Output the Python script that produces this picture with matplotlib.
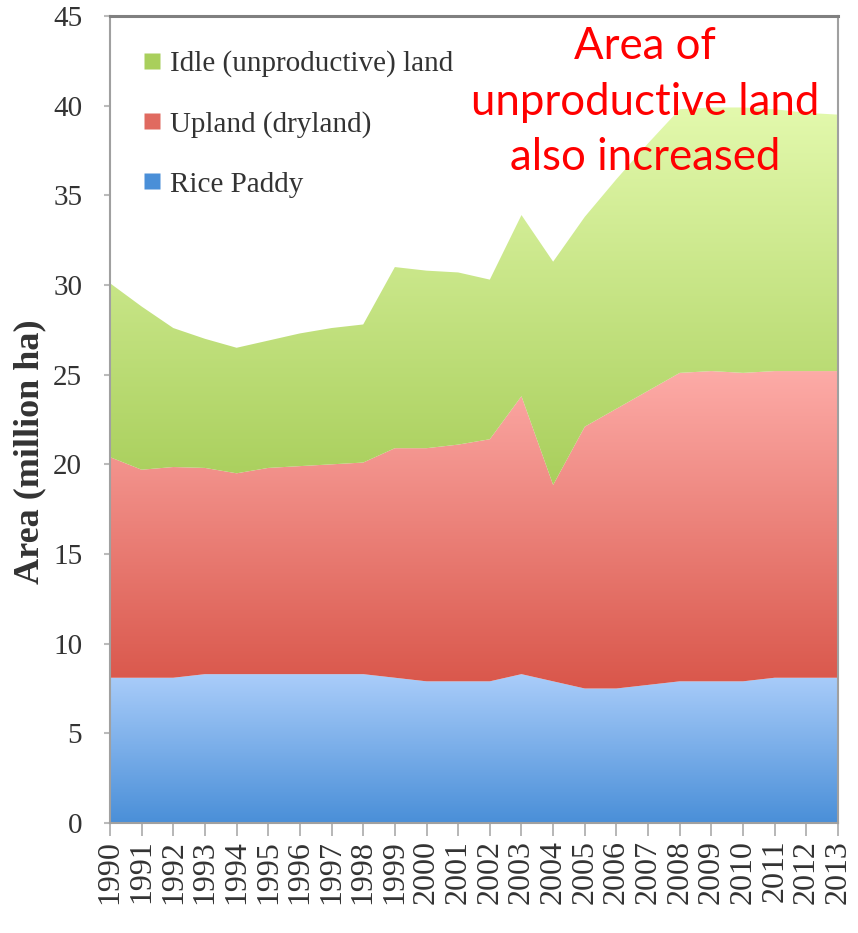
import numpy as np
import matplotlib
matplotlib.use("Agg")
import matplotlib.pyplot as plt
from matplotlib.colors import LinearSegmentedColormap
from matplotlib.lines import Line2D

years = list(range(1990, 2014))
rice = [8.1, 8.1, 8.1, 8.3, 8.3, 8.3, 8.3, 8.3, 8.3, 8.1, 7.9, 7.9,
        7.9, 8.3, 7.9, 7.5, 7.5, 7.7, 7.9, 7.9, 7.9, 8.1, 8.1, 8.1]
upland = [12.3, 11.6, 11.75, 11.5, 11.2, 11.5, 11.6, 11.7, 11.8, 12.8, 13.0, 13.2,
          13.5, 15.5, 10.95, 14.6, 15.6, 16.4, 17.2, 17.3, 17.2, 17.1, 17.1, 17.1]
idle = [9.7, 9.1, 7.75, 7.2, 7.0, 7.1, 7.4, 7.6, 7.7, 10.1, 9.9, 9.6,
        8.9, 10.1, 12.45, 11.7, 12.8, 13.8, 14.7, 14.7, 14.8, 14.6, 14.4, 14.3]
labels = ["Rice Paddy", "Upland (dryland)", "Idle (unproductive) land"]

# gradient colours (bottom -> top) like the Excel fills
grads = [("#4a8fd8", "#aacdfa"), ("#d9564a", "#fdaba7"), ("#a9cf5c", "#e3f9ad")]
swatch = ["#4a8fd8", "#e06a60", "#a9cf5c"]

serif = "Liberation Serif"

fig = plt.figure(figsize=(8.58, 9.33), dpi=100)
ax = fig.add_axes([110 / 858, 1 - 823 / 933, 728 / 858, 807 / 933])

x = np.array(years, dtype=float)
base = np.zeros(len(years))
for vals, (c0, c1) in zip([rice, upland, idle], grads):
    top = base + np.array(vals)
    poly = ax.fill_between(x, base, top, color="none", lw=0)
    lo, hi = base.min(), top.max()
    cmap = LinearSegmentedColormap.from_list("g", [c0, c1])
    grad = np.linspace(0, 1, 256).reshape(-1, 1)
    im = ax.imshow(grad, cmap=cmap, aspect="auto", origin="lower",
                   extent=[x[0], x[-1], lo, hi], interpolation="bicubic", zorder=1)
    im.set_clip_path(poly.get_paths()[0], transform=ax.transData)
    base = top

ax.set_xlim(years[0], years[-1])
ax.set_ylim(0, 45)
ax.set_xticks(years)
ax.set_xticklabels([str(y) for y in years], rotation=90, fontsize=23,
                   family=serif, color="#333333")
ax.set_yticks(range(0, 46, 5))
ax.set_yticklabels([str(v) for v in range(0, 46, 5)], fontsize=21,
                   family=serif, color="#333333")
ax.tick_params(axis="x", length=9, width=1.2, color="#aaaaaa", pad=3)
ax.tick_params(axis="y", length=4, width=1.5, color="#bbbbbb", pad=16)

for s in ["left", "bottom", "right"]:
    ax.spines[s].set_color("#a0a0a0")
    ax.spines[s].set_linewidth(1.5)
ax.spines["top"].set_color("#808080")
ax.spines["top"].set_linewidth(2.2)

ax.set_ylabel("Area (million ha)", fontsize=26, fontweight="bold",
              family=serif, color="#333333")
ax.yaxis.set_label_coords(-0.088, 0.46)

handles = [Line2D([], [], marker="s", ls="none", markersize=11,
                  markerfacecolor=c, markeredgecolor="none") for c in swatch]
leg = ax.legend(handles[::-1], labels[::-1], loc="upper left",
                bbox_to_anchor=(0.01, 0.99), frameon=False,
                prop={"family": serif, "size": 21}, handlelength=0.6,
                handletextpad=0.3, labelspacing=1.15)
for t in leg.get_texts():
    t.set_color("#333333")

ax.text(0.735, 0.988, "Area of\nunproductive land\nalso increased",
        transform=ax.transAxes, ha="center", va="top", color="#ff0000",
        fontsize=31.5, family="Lato", linespacing=1.45, zorder=5)

fig.savefig("out.png", dpi=100)
